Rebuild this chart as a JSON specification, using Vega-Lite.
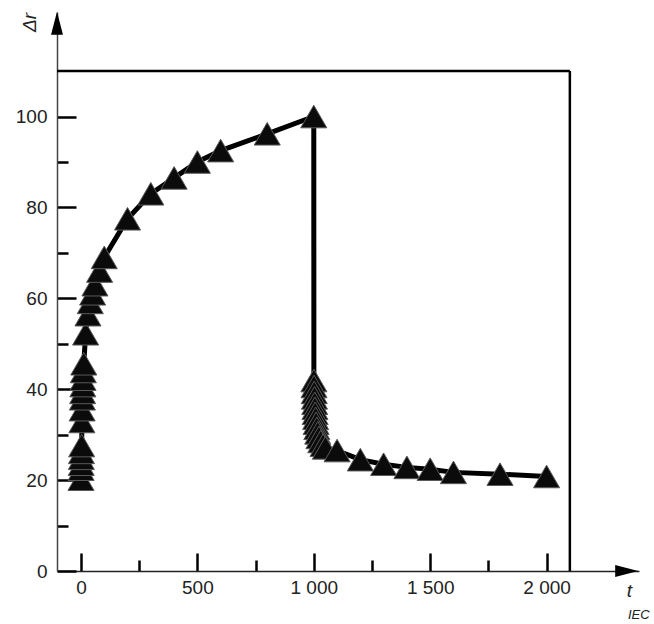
{
  "$schema": "https://vega.github.io/schema/vega-lite/v6.json",
  "width": 582,
  "height": 559,
  "autosize": {"type": "none"},
  "padding": {"left": 57, "top": 12, "right": 15, "bottom": 53},
  "background": "white",
  "config": {"view": {"stroke": null}, "font": "Liberation Sans"},
  "title": {"text": "IEC", "orient": "bottom", "anchor": "end", "align": "left", "dx": -11, "offset": 5, "fontSize": 13, "fontStyle": "italic", "fontWeight": "normal", "color": "#222"},
  "datasets": {
    "series": [
      {"t": 0, "dr": 20.2}, {"t": 0.5, "dr": 22.4}, {"t": 1, "dr": 23.5}, {"t": 1.5, "dr": 24.8},
      {"t": 2, "dr": 26.1}, {"t": 3, "dr": 27.6}, {"t": 4, "dr": 32.9}, {"t": 5, "dr": 35.5},
      {"t": 6, "dr": 37.9}, {"t": 7, "dr": 39.3}, {"t": 8, "dr": 40.8}, {"t": 9, "dr": 42.2},
      {"t": 10, "dr": 43.9}, {"t": 12, "dr": 45.6}, {"t": 20, "dr": 52.2}, {"t": 30, "dr": 56.4},
      {"t": 40, "dr": 59.1}, {"t": 50, "dr": 61}, {"t": 60, "dr": 63}, {"t": 80, "dr": 66},
      {"t": 100, "dr": 69}, {"t": 200, "dr": 77.5}, {"t": 300, "dr": 83}, {"t": 400, "dr": 86.5},
      {"t": 500, "dr": 90}, {"t": 600, "dr": 92.5}, {"t": 800, "dr": 96.2}, {"t": 1000, "dr": 100},
      {"t": 1000.5, "dr": 41.9}, {"t": 1001, "dr": 40.6}, {"t": 1002, "dr": 39.3}, {"t": 1003, "dr": 38.1},
      {"t": 1004, "dr": 36.9}, {"t": 1005, "dr": 35.8}, {"t": 1006, "dr": 34.7}, {"t": 1008, "dr": 33.6},
      {"t": 1010, "dr": 32.5}, {"t": 1013, "dr": 31.4}, {"t": 1017, "dr": 30.4}, {"t": 1022, "dr": 29.4},
      {"t": 1030, "dr": 28.5}, {"t": 1040, "dr": 27.7}, {"t": 1050, "dr": 27.1}, {"t": 1100, "dr": 26.5},
      {"t": 1200, "dr": 24.5}, {"t": 1300, "dr": 23.5}, {"t": 1400, "dr": 22.8}, {"t": 1500, "dr": 22.4},
      {"t": 1600, "dr": 21.7}, {"t": 1800, "dr": 21.3}, {"t": 2000, "dr": 20.8}
    ],
    "frame": [
      {"t": -103, "t2": 2100, "dr": 110, "dr2": 110},
      {"t": 2100, "t2": 2100, "dr": 0, "dr2": 110}
    ],
    "arrows": [
      {"t": -103, "dr": 120.5, "dir": "up"},
      {"t": 2344, "dr": 0, "dir": "right"}
    ]
  },
  "layer": [
    {
      "data": {"name": "frame"},
      "mark": {"type": "rule", "color": "#000", "strokeWidth": 2.5},
      "encoding": {
        "x": {"field": "t", "type": "quantitative", "scale": {"domain": [-103, 2397], "nice": false, "zero": false},
          "axis": {
            "values": [0, 250, 500, 750, 1000, 1250, 1500, 1750, 2000],
            "labelExpr": "datum.value % 500 === 0 ? replace(format(datum.value, ','), ',', ' ') : ''",
            "tickSize": {"condition": {"test": "datum.value % 500 === 0", "value": -18}, "value": -11},
            "tickWidth": 2.5, "tickColor": "#000",
            "domainColor": "#222", "domainWidth": 1.5,
            "labelFontSize": 19, "labelColor": "#222", "labelPadding": 25,
            "labelFlush": false, "labelOverlap": false, "grid": false,
            "title": "t", "titleFontStyle": "italic", "titleFontWeight": "normal", "titleFontSize": 19, "titleColor": "#222",
            "titleX": 572, "titleY": 19, "titleAlign": "center", "titleBaseline": "middle"
          }},
        "x2": {"field": "t2"},
        "y": {"field": "dr", "type": "quantitative", "scale": {"domain": [0, 123], "nice": false, "zero": false},
          "axis": {
            "values": [0, 10, 20, 30, 40, 50, 60, 70, 80, 90, 100],
            "labelExpr": "datum.value % 20 === 0 ? datum.label : ''",
            "tickSize": {"condition": {"test": "datum.value % 20 === 0", "value": -19}, "value": -11},
            "tickWidth": 2.5, "tickColor": "#000",
            "domainColor": "#444", "domainWidth": 1.5,
            "labelFontSize": 19, "labelColor": "#222", "labelPadding": 29,
            "labelOverlap": false, "labelFlush": false, "grid": false,
            "title": "Δr", "titleFontStyle": "italic", "titleFontWeight": "normal", "titleFontSize": 19, "titleColor": "#222",
            "titleAngle": 270, "titleX": -28, "titleY": 10, "titleAlign": "center", "titleBaseline": "middle"
          }},
        "y2": {"field": "dr2"}
      }
    },
    {
      "data": {"name": "series"},
      "mark": {"type": "line", "color": "#000", "strokeWidth": 5},
      "encoding": {
        "x": {"field": "t", "type": "quantitative"},
        "y": {"field": "dr", "type": "quantitative"}
      }
    },
    {
      "data": {"name": "series"},
      "mark": {"type": "point", "shape": "triangle-up", "filled": true, "size": 680, "fill": "#0b0b0b", "stroke": "#5a5a5a", "strokeWidth": 1, "opacity": 1},
      "encoding": {
        "x": {"field": "t", "type": "quantitative"},
        "y": {"field": "dr", "type": "quantitative"}
      }
    },
    {
      "data": {"name": "arrows"},
      "mark": {"type": "point", "filled": true, "size": 529, "fill": "#000", "stroke": null, "opacity": 1},
      "encoding": {
        "x": {"field": "t", "type": "quantitative"},
        "y": {"field": "dr", "type": "quantitative"},
        "shape": {"field": "dir", "type": "nominal", "legend": null,
          "scale": {"domain": ["up", "right"], "range": ["M0,-1L0.52,1L-0.52,1Z", "M1,0L-1,-0.52L-1,0.52Z"]}}
      }
    }
  ]
}
